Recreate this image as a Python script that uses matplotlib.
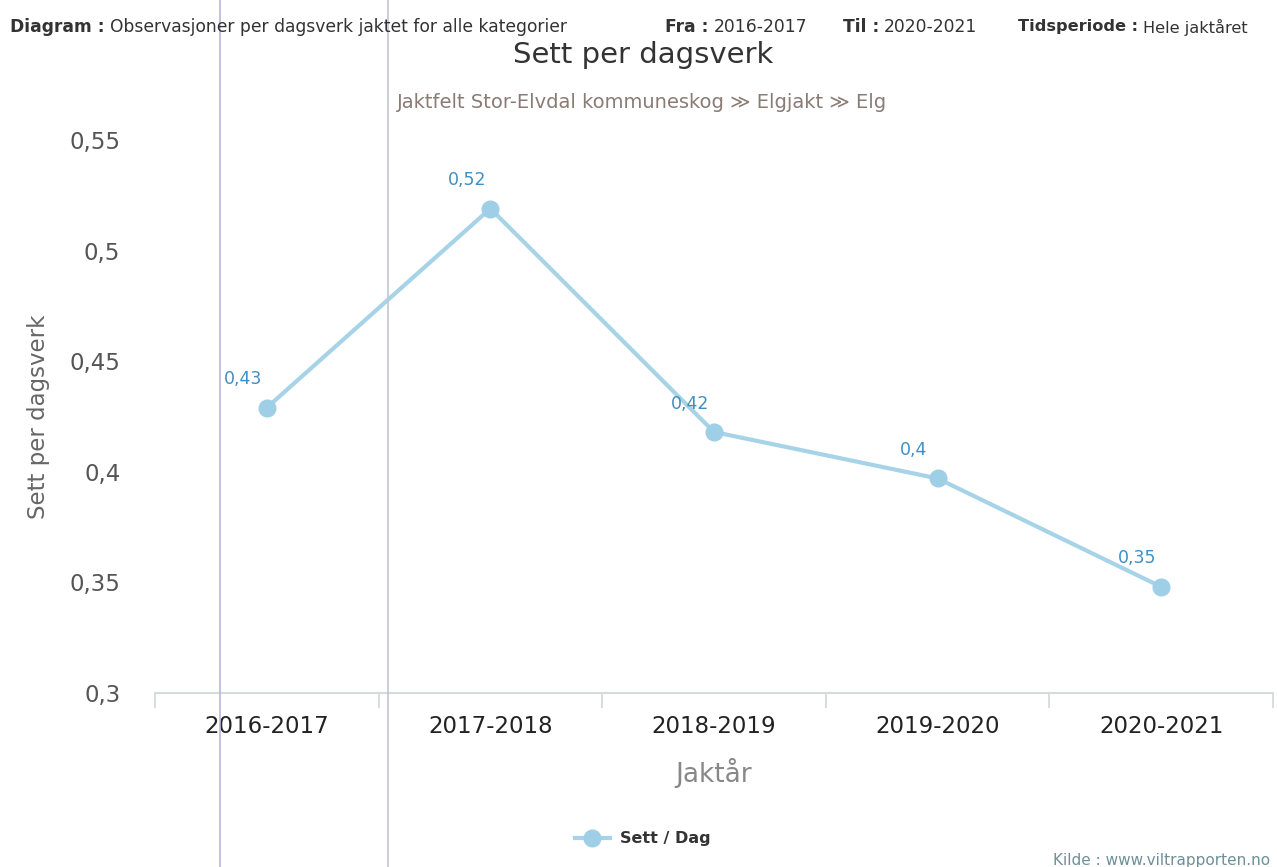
import matplotlib
matplotlib.use("Agg")
import matplotlib.pyplot as plt
from matplotlib.lines import Line2D
import numpy as np

categories = ["2016-2017", "2017-2018", "2018-2019", "2019-2020", "2020-2021"]
values = [0.429, 0.519, 0.418, 0.397, 0.348]
yticks = [0.3, 0.35, 0.4, 0.45, 0.5, 0.55]

def no_fmt(v):
    s = ("%.2f" % v).rstrip("0").rstrip(".")
    return s.replace(".", ",")

plt.rcParams['font.family'] = ['DejaVu Sans']
W, H = 1277, 867
fig = plt.figure(figsize=(W / 100, H / 100), dpi=100)
fig.patch.set_facecolor("white")

ax = fig.add_axes([155 / W, 1 - 693 / H, (1273 - 155) / W, (693 - 140) / H])
x = np.arange(len(categories))
line_color = "#a6d3e8"
ax.plot(x, values, color=line_color, lw=3, marker="o", ms=12,
        markerfacecolor="#9fcfe6", markeredgecolor="#9fcfe6", zorder=3)
for xi, v in zip(x, values):
    ax.annotate(no_fmt(round(v, 2)), (xi, v), xytext=(-17, 14), textcoords="offset points",
                ha="center", va="bottom", fontsize=12.5, color="#3f8fc4")
ax.set_xlim(-0.5, len(categories) - 0.5)
ax.set_ylim(0.3, 0.55)
ax.set_yticks(yticks)
ax.set_yticklabels([no_fmt(t) for t in yticks], fontsize=16.5, color="#555555")
ax.set_xticks(x)
ax.set_xticklabels(categories, fontsize=16.5, color="#222222")
ax.set_xticks(np.arange(-0.5, len(categories)), minor=True)
ax.tick_params(axis="x", which="major", length=0, pad=16)
ax.tick_params(axis="x", which="minor", length=11, color="#cfd8d8", width=1.2)
ax.tick_params(axis="y", length=0, pad=25)
for s in ["top", "right", "left"]:
    ax.spines[s].set_visible(False)
ax.spines["bottom"].set_color("#d3dbdb")
ax.spines["bottom"].set_linewidth(1.5)
ax.set_ylabel("Sett per dagsverk", fontsize=16.5, color="#666666", labelpad=14)
ax.set_xlabel("Jaktår", fontsize=19, color="#888888", labelpad=14)

renderer = fig.canvas.get_renderer()

def pair(x0, y0, bold, normal, size=12.3):
    t = fig.text(x0 / W, 1 - y0 / H, bold, fontsize=size, fontweight="bold",
                 color="#333333", va="center")
    bb = t.get_window_extent(renderer)
    fig.text((bb.x1 + 5) / W, 1 - y0 / H, normal, fontsize=size, color="#333333", va="center")

pair(10, 27, "Diagram :", "Observasjoner per dagsverk jaktet for alle kategorier")
pair(665, 27, "Fra :", "2016-2017")
pair(843, 27, "Til :", "2020-2021")
pair(1018, 27, "Tidsperiode :", "Hele jaktåret", size=11.6)

fig.text(643 / W, 1 - 55 / H, "Sett per dagsverk", fontsize=21, color="#333333", ha="center", va="center")
fig.text(642 / W, 1 - 103 / H, "Jaktfelt Stor-Elvdal kommuneskog ≫ Elgjakt ≫ Elg", fontsize=14,
         color="#8a7b74", ha="center", va="center")

# legend
leg_y = 1 - 838 / H
fig.add_artist(Line2D([575 / W, 610 / W], [leg_y, leg_y], color=line_color, lw=3,
                      transform=fig.transFigure))
fig.add_artist(Line2D([592 / W], [leg_y], marker="o", ms=12, color="#9fcfe6",
                      transform=fig.transFigure))
fig.text(620 / W, leg_y, "Sett / Dag", fontsize=11.5, fontweight="bold", color="#333333", va="center")

fig.text(1270 / W, 1 - 860 / H, "Kilde : www.viltrapporten.no", fontsize=11, color="#6f8f98",
         ha="right", va="center")

# scan artifact lines
for xv, c in [(220, "#b7b7dc"), (388, "#c4c4d4")]:
    fig.add_artist(Line2D([xv / W, xv / W], [0, 1], color=c, lw=1.2, transform=fig.transFigure))

fig.savefig("out.png", dpi=100)
